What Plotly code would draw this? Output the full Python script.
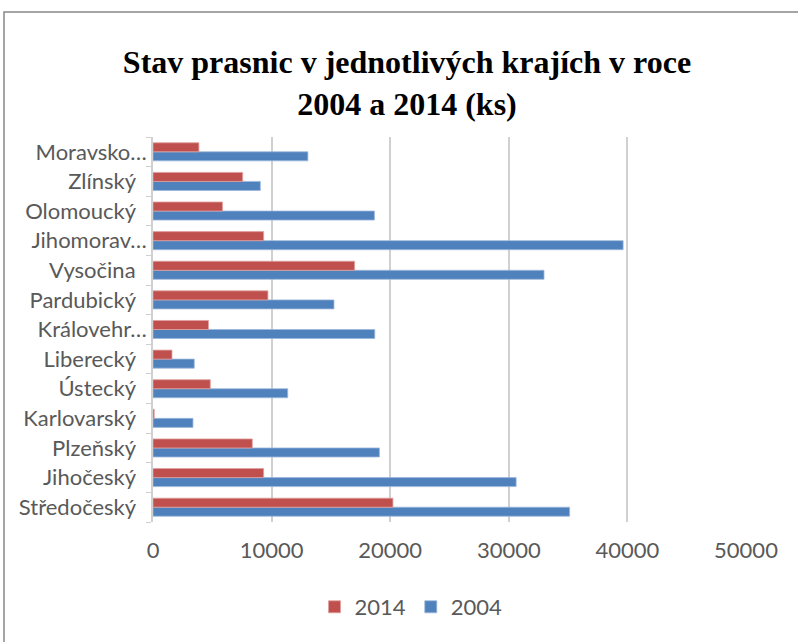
import plotly.graph_objects as go

# regions, bottom to top as drawn
regions = ["Středočeský", "Jihočeský", "Plzeňský", "Karlovarský", "Ústecký",
           "Liberecký", "Královehr…", "Pardubický", "Vysočina", "Jihomorav…",
           "Olomoucký", "Zlínský", "Moravsko…"]
sows_2004 = [35130, 30620, 19090, 3370, 11360, 3480, 18700, 15260, 32970, 39640,
             18670, 9050, 13060]
sows_2014 = [20230, 9330, 8370, 100, 4830, 1600, 4680, 9690, 17000, 9330,
             5860, 7560, 3870]
x_ticks = [0, 10000, 20000, 30000, 40000, 50000]

# non-truncated labels sit a bit further left in the original
labels = [r if r.endswith("…") else r + "\u00a0\u00a0" for r in regions]

W, H = 798, 642
ml, mr, mt, mb = 153, 52, 137, 120
pw, ph = W - ml - mr, H - mt - mb

fig = go.Figure()
fig.add_trace(go.Bar(y=labels, x=sows_2004, name="2004", orientation="h",
                     marker=dict(color="#4F81BD", line=dict(color="#9DB8DC", width=0.8))))
fig.add_trace(go.Bar(y=labels, x=sows_2014, name="2014", orientation="h",
                     marker=dict(color="#C0504D", line=dict(color="#E0A09E", width=0.8))))

# outer chart border
def px_x(x):
    return (x - ml) / pw

def px_y(y):
    return (H - mb - y) / ph

fig.add_shape(type="rect", xref="paper", yref="paper",
              x0=px_x(4), x1=px_x(800), y0=px_y(650), y1=px_y(12),
              line=dict(color="#888888", width=1.5), fillcolor="rgba(0,0,0,0)")

fig.update_layout(
    width=W, height=H,
    margin=dict(l=ml, r=mr, t=mt, b=mb, autoexpand=False),
    paper_bgcolor="white", plot_bgcolor="white",
    barmode="group", bargap=0.39, bargroupgap=0,
    title=dict(text="<b>Stav prasnic v jednotlivých krajích v roce<br>2004 a 2014 (ks)</b>",
               x=0.51, xanchor="center", y=1 - 73 / H, yanchor="middle",
               font=dict(family="Liberation Serif", size=32, color="black")),
    font=dict(family="Lato", size=22, color="#595959"),
    showlegend=True,
    legend=dict(orientation="h", x=px_x(411), xanchor="center", y=px_y(607), yanchor="middle",
                traceorder="reversed", font=dict(size=22, color="#595959"),
                itemwidth=30),
    xaxis=dict(range=[0, 50000], tickvals=x_ticks, ticktext=[str(v) for v in x_ticks],
               showgrid=True, gridcolor="#D0D0D0",
               gridwidth=1.5, zeroline=False, showline=False, ticks="",
               ticklabelstandoff=13, automargin=False,
               tickfont=dict(size=22, color="#595959")),
    yaxis=dict(type="category", showgrid=False, showline=True, linecolor="#D0D0D0",
               linewidth=1.5, ticks="outside", tickson="boundaries", ticklen=5,
               tickcolor="#D0D0D0", tickfont=dict(size=22, color="#595959"),
               automargin=False, range=[-0.5, 12.5]),
)

fig.write_html("out.html", config={"displayModeBar": False},
               post_script="document.body.style.margin='0';")
